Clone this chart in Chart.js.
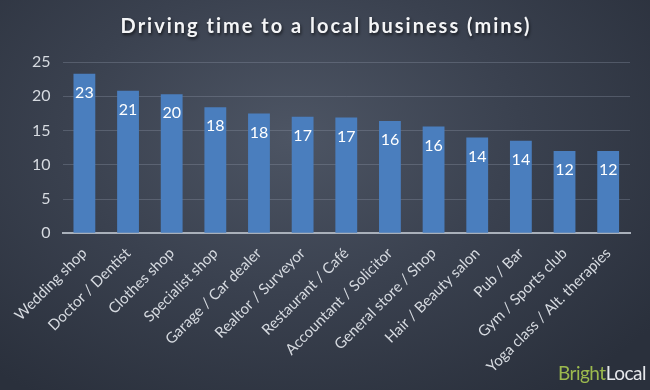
<!DOCTYPE html>
<html>
<head>
<meta charset="utf-8">
<script src="https://cdn.jsdelivr.net/npm/chart.js@4/dist/chart.umd.min.js"></script>
<style>
  html, body { margin: 0; padding: 0; }
  body {
    width: 650px; height: 390px; overflow: hidden; position: relative;
    background: radial-gradient(ellipse 70% 80% at 45% 35%, #4d5564 0%, #3a414f 50%, #2a303c 100%);
  }
  #wrap { position: absolute; left: 0; top: 0; width: 650px; height: 390px; }
  #logo {
    position: absolute; right: 4px; bottom: 6px;
    font-family: Lato, "Open Sans", sans-serif; font-size: 19px; letter-spacing: -0.5px;
  }
  #logo .b { color: #9cba4e; }
  #logo .l { color: #e6e8ec; }
</style>
</head>
<body>
<div id="wrap"><canvas id="grafico" width="650" height="390"></canvas></div>
<div id="logo"><span class="b">Bright</span><span class="l">Local</span></div>
<script>
// categorias e valores (minutos)
const titulo = 'Driving time to a local business (mins)';
const categorias = [
  'Wedding shop', 'Doctor / Dentist', 'Clothes shop', 'Specialist shop',
  'Garage / Car dealer', 'Realtor / Surveyor', 'Restaurant / Café',
  'Accountant / Solicitor', 'General store / Shop', 'Hair / Beauty salon',
  'Pub / Bar', 'Gym / Sports club', 'Yoga class / Alt. therapies'
];
const minutos = [23.3, 20.8, 20.3, 18.4, 17.5, 17.0, 16.9, 16.4, 15.6, 14.0, 13.5, 12.0, 12.0];
const rotulos = [23, 21, 20, 18, 18, 17, 17, 16, 16, 14, 14, 12, 12];
const ticksY = [0, 5, 10, 15, 20, 25];

// título com espaçamento entre letras e sombra
const tituloPlugin = {
  id: 'tituloEspacado',
  afterDraw(chart) {
    const ctx = chart.ctx;
    ctx.save();
    ctx.font = 'bold 20px Lato, "Open Sans", sans-serif';
    ctx.letterSpacing = '2px';
    ctx.textAlign = 'center';
    ctx.textBaseline = 'middle';
    ctx.shadowColor = 'rgba(0,0,0,0.6)';
    ctx.shadowOffsetX = 1;
    ctx.shadowOffsetY = 2;
    ctx.shadowBlur = 3;
    ctx.fillStyle = '#f4f5f7';
    ctx.fillText(titulo, chart.width / 2 + 1, 27);
    ctx.restore();
  }
};

// rótulos brancos dentro do topo de cada barra
const rotulosPlugin = {
  id: 'rotulos',
  afterDatasetsDraw(chart) {
    const ctx = chart.ctx;
    const meta = chart.getDatasetMeta(0);
    ctx.save();
    ctx.fillStyle = '#ffffff';
    ctx.font = '16px Lato, "Open Sans", sans-serif';
    ctx.textAlign = 'center';
    ctx.textBaseline = 'middle';
    meta.data.forEach((bar, i) => {
      ctx.fillText(String(rotulos[i]), bar.x, bar.y + 19);
    });
    ctx.restore();
  }
};

const ctx = document.getElementById('grafico').getContext('2d');
new Chart(ctx, {
  type: 'bar',
  data: {
    labels: categorias,
    datasets: [{
      label: 'Driving time',
      data: minutos,
      backgroundColor: '#4a7ebe',
      barPercentage: 0.5,
      categoryPercentage: 1.0
    }]
  },
  options: {
    responsive: false,
    animation: false,
    layout: { padding: { left: 20, right: 20, top: 62, bottom: 11 } },
    plugins: {
      legend: { display: false },
      tooltip: { enabled: false },
      title: { display: false }
    },
    scales: {
      x: {
        grid: { display: false },
        border: { color: '#a9b0ba', width: 2 },
        ticks: {
          color: '#d6dae0',
          font: { family: 'Lato, "Open Sans", sans-serif', size: 15 },
          maxRotation: 45, minRotation: 45, autoSkip: false
        }
      },
      y: {
        min: 0, max: 25,
        afterBuildTicks(axis) { axis.ticks = ticksY.map(v => ({ value: v })); },
        grid: { color: 'rgba(140,150,165,0.35)', lineWidth: 1, drawTicks: false },
        border: { display: false },
        ticks: {
          color: '#d6dae0', padding: 12,
          font: { family: 'Lato, "Open Sans", sans-serif', size: 16 }
        }
      }
    }
  },
  plugins: [rotulosPlugin, tituloPlugin]
});
</script>
</body>
</html>
